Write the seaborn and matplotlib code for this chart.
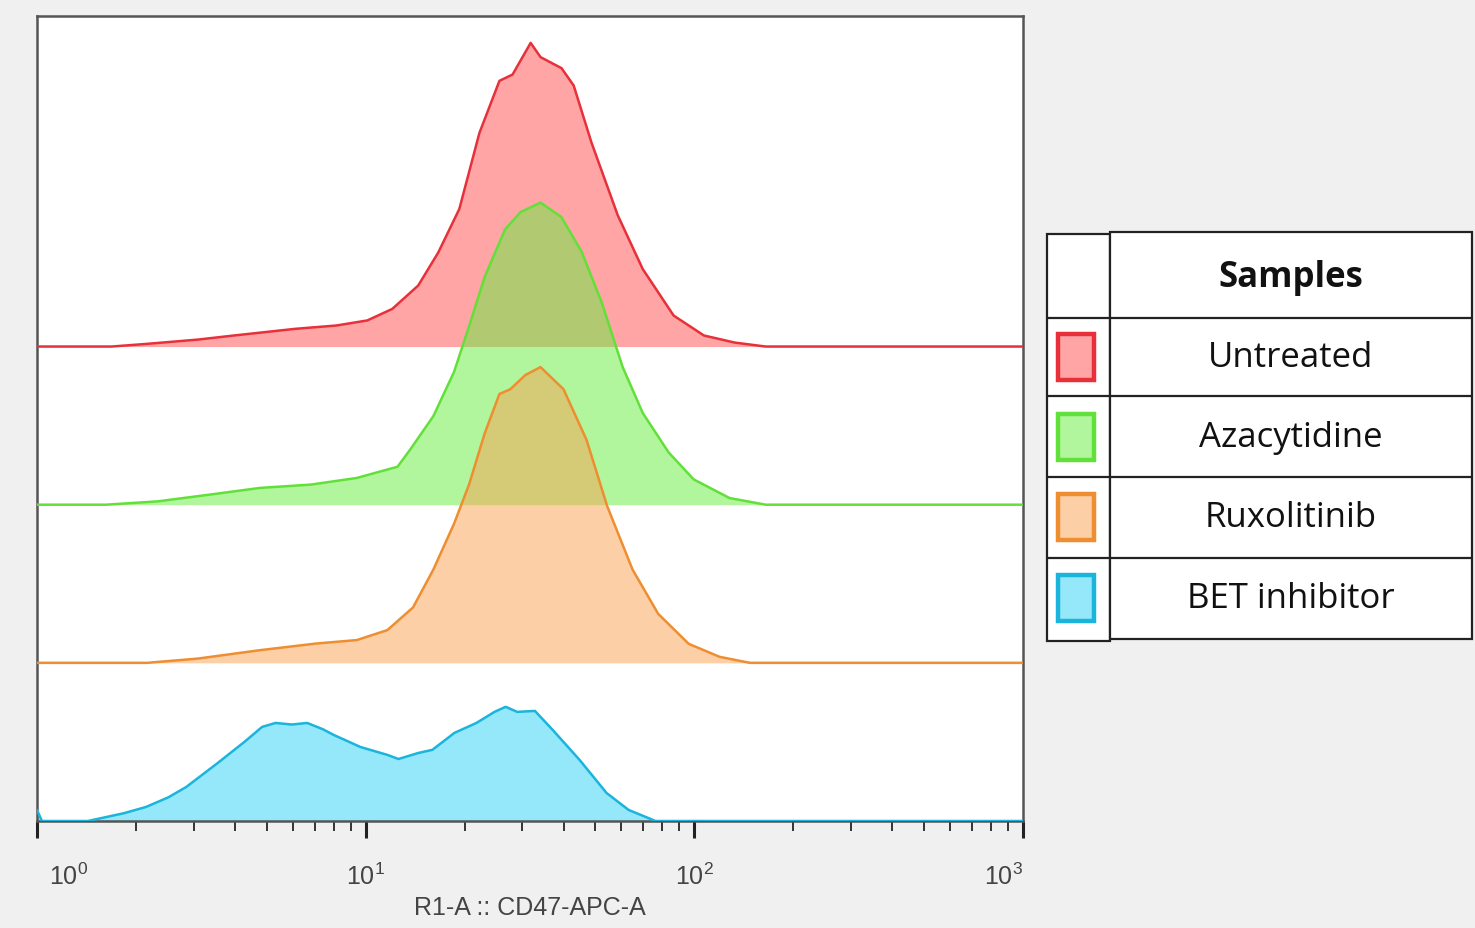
import numpy as np
import pandas as pd
import matplotlib
matplotlib.use("Agg")
import matplotlib.pyplot as plt
from matplotlib import font_manager
from matplotlib.patches import Rectangle
from matplotlib.transforms import ScaledTranslation
import seaborn as sns

# ---------------- data ----------------
samples = ["Untreated", "Azacytidine", "Ruxolitinib", "BET inhibitor"]
offsets = [300, 200, 100, 0]

red_logx = [0.0, 0.227, 0.335, 0.490, 0.600, 0.786, 0.911, 1.005, 1.081, 1.160, 1.221,
            1.285, 1.346, 1.407, 1.447, 1.502, 1.532, 1.596, 1.633, 1.687, 1.767, 1.843,
            1.937, 2.029, 2.123, 2.217, 3.0]
red_counts = [0, 0, 1.7, 4.4, 7.0, 11.2, 13.3, 16.5, 23.8, 38.6, 59.5,
              87, 135, 168, 172, 192, 183, 176, 165, 129, 83, 49,
              19.6, 7, 2.5, 0, 0]

green_logx = [0.0, 0.21, 0.367, 0.523, 0.678, 0.833, 0.973, 1.097, 1.136, 1.206, 1.269,
              1.315, 1.362, 1.424, 1.471, 1.532, 1.595, 1.657, 1.718, 1.782, 1.843, 1.922,
              1.998, 2.107, 2.217, 3.0]
green_counts = [0, 0, 2.1, 6.3, 10.6, 12.7, 16.9, 24, 35, 56, 84,
                113, 144, 174, 185, 191, 182, 160, 128, 87, 58, 33,
                16, 4.2, 0, 0]

orange_logx = [0.0, 0.335, 0.490, 0.678, 0.849, 0.973, 1.066, 1.144, 1.206, 1.269, 1.315,
               1.362, 1.407, 1.440, 1.486, 1.532, 1.602, 1.672, 1.735, 1.812, 1.890, 1.983,
               2.077, 2.169, 3.0]
orange_counts = [0, 0, 2.7, 8, 12.2, 14.4, 20.7, 35, 59, 88, 113,
                 145, 170, 173, 182, 187, 173, 141, 99, 59, 31, 12,
                 3.8, 0, 0]

blue_logx = [0.0, 0.015, 0.155, 0.264, 0.332, 0.400, 0.454, 0.550, 0.631, 0.685, 0.726,
             0.775, 0.822, 0.870, 0.903, 0.984, 1.066, 1.100, 1.160, 1.203, 1.270, 1.337,
             1.392, 1.426, 1.461, 1.515, 1.569, 1.651, 1.733, 1.800, 1.882, 3.0]
blue_counts = [7, 0, 0, 4.9, 8.9, 15.0, 21.5, 36.7, 50, 59.5, 62,
               61, 62, 58, 54.4, 46.8, 41.8, 39.2, 43, 45, 55.7, 62,
               69, 72.2, 69, 69.6, 57.6, 38.6, 17.7, 7, 0, 0]

tick_values = [1, 10, 100, 1000]
tick_labels = ["$10^{0}$", "$10^{1}$", "$10^{2}$", "$10^{3}$"]
x_label = "R1-A :: CD47-APC-A"
legend_title = "Samples"

line_colors = ["#E8303A", "#62E03A", "#EE8E30", "#1AB4DC"]
fill_colors = ["#FF4D4D", "#64EE3C", "#FAA050", "#2DD2F5"]

series_logx = [red_logx, green_logx, orange_logx, blue_logx]
series_counts = [red_counts, green_counts, orange_counts, blue_counts]

# ---------------- styling ----------------
sns.set_theme(style="white")
available = {f.name for f in font_manager.fontManager.ttflist}
narrow = "Liberation Sans Narrow" if "Liberation Sans Narrow" in available else "Liberation Sans"
plt.rcParams["font.family"] = [narrow, "DejaVu Sans"]
plt.rcParams["mathtext.fontset"] = "custom"
plt.rcParams["mathtext.rm"] = narrow
plt.rcParams["mathtext.it"] = narrow
plt.rcParams["mathtext.sf"] = narrow

W, H = 1475, 929
fig = plt.figure(figsize=(W / 100, H / 100), dpi=100)
fig.patch.set_facecolor("#F0F0F0")

ax = fig.add_axes([37 / W, 1 - 822 / H, (1023 - 37) / W, (822 - 17) / H])
ax.set_facecolor("white")

rows = []
for name, off, lx, cnt in zip(samples, offsets, series_logx, series_counts):
    for a, c in zip(lx, cnt):
        rows.append({"sample": name, "x": 10 ** a, "y": c + off, "base": off})
df = pd.DataFrame(rows)

for name, lc, fc in zip(samples, line_colors, fill_colors):
    d = df[df["sample"] == name]
    ax.fill_between(d["x"], d["base"], d["y"], color=fc, alpha=0.5, linewidth=0, zorder=2)
    sns.lineplot(data=d, x="x", y="y", color=lc, linewidth=1.8, estimator=None,
                 sort=False, ax=ax, zorder=3)

ax.set_xscale("log")
ax.set_xlim(1, 1000)
ax.set_ylim(0, 509)
ax.set_yticks([])
ax.set_ylabel("")
ax.set_xticks(tick_values)
ax.set_xticklabels(tick_labels)
ax.xaxis.set_minor_locator(matplotlib.ticker.LogLocator(base=10, subs=np.arange(2, 10)))
ax.xaxis.set_minor_formatter(matplotlib.ticker.NullFormatter())
ax.tick_params(axis="x", which="major", direction="out", length=12, width=2.2,
               color="#222222", pad=18, labelsize=18, labelcolor="#444444", bottom=True)
ax.tick_params(axis="x", which="minor", direction="out", length=7, width=1.4,
               color="#333333", bottom=True)
labs = ax.get_xticklabels()
labs[0].set_horizontalalignment("left")
labs[0].set_transform(labs[0].get_transform() + ScaledTranslation(0.12, 0, fig.dpi_scale_trans))
labs[-1].set_horizontalalignment("right")
ax.set_xlabel(x_label, fontsize=18, color="#444444", labelpad=4)
for s in ax.spines.values():
    s.set_color("#555555")
    s.set_linewidth(1.8)

# ---------------- legend table ----------------
lax = fig.add_axes([0, 0, 1, 1])
lax.set_xlim(0, W)
lax.set_ylim(H, 0)
lax.axis("off")
lax.patch.set_alpha(0)

lw = 1.6
edge = "#222222"
lax.add_patch(Rectangle((1047, 235), 1110 - 1047, 642 - 235, facecolor="white",
                        edgecolor=edge, linewidth=lw))
lax.add_patch(Rectangle((1110, 233), 1472 - 1110, 640 - 233, facecolor="white",
                        edgecolor=edge, linewidth=lw))
row_lines = [319, 397, 478, 559]
for yl in row_lines:
    lax.plot([1047, 1472], [yl, yl], color=edge, linewidth=lw)

lax.text(1291, 278, legend_title, ha="center", va="center", fontsize=25,
         fontweight="bold", family=["Open Sans", "DejaVu Sans"], color="#111111")
row_centers = [358, 438, 518, 599]
for name, yc, lc, fc in zip(samples, row_centers, line_colors, fill_colors):
    lax.text(1291, yc, name, ha="center", va="center", fontsize=25,
             family=["Open Sans", "DejaVu Sans"], color="#111111")
    lax.add_patch(Rectangle((1058, yc - 23), 36, 46, facecolor=fc, alpha=0.5,
                            edgecolor="none"))
    lax.add_patch(Rectangle((1058, yc - 23), 36, 46, facecolor="none",
                            edgecolor=lc, linewidth=3.2))

fig.savefig("out.png", dpi=100, facecolor=fig.get_facecolor())
